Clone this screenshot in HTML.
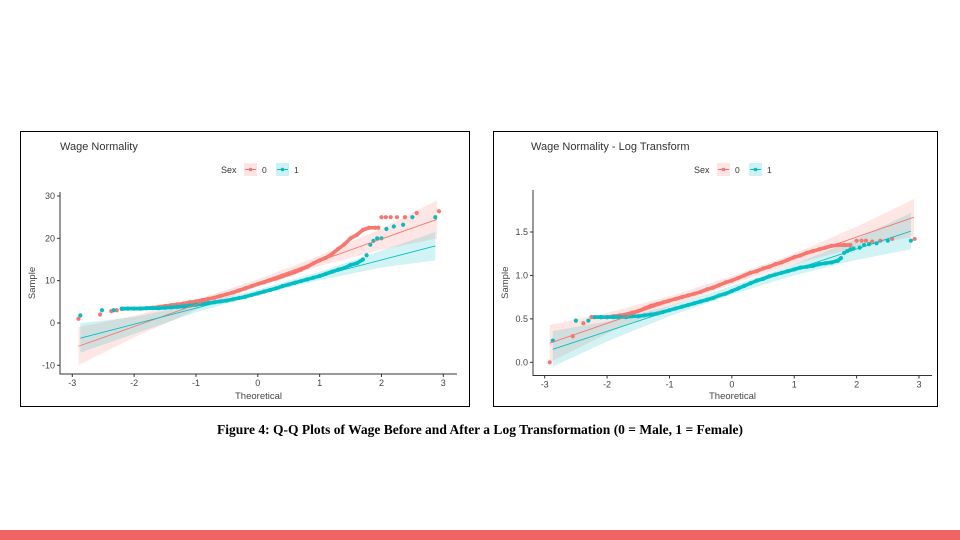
<!DOCTYPE html>
<html><head><meta charset="utf-8"><style>
body{margin:0;width:960px;height:540px;background:#fff;overflow:hidden;position:relative;font-family:"Liberation Sans",sans-serif}
svg{position:absolute;left:0;top:0}
</style></head><body>
<svg width="960" height="540" id="root">
<rect x="20.5" y="131.5" width="449" height="275" fill="none" stroke="#000" stroke-width="1"/>
<rect x="493.5" y="131.5" width="444" height="275" fill="none" stroke="#000" stroke-width="1"/>
<text x="480" y="434" text-anchor="middle" font-family="Liberation Serif, serif" font-weight="bold" font-size="13.5" fill="#000">Figure 4: Q-Q Plots of Wage Before and After a Log Transformation (0 = Male, 1 = Female)</text>
<rect x="0" y="530" width="960" height="10" fill="#f06464"/>
<g id="left"></g>
<g id="right"></g>
</svg>
<script>
// ---- Left chart data (Wage) ----
const L_xTicks=[-3,-2,-1,0,1,2,3];
const L_yTicks=[-10,0,10,20,30];
const L_red_x=[-2.9,-2.55,-2.37,-2.28,-2.2,-2.1,-2.0,-1.9,-1.8,-1.7,-1.6,-1.5,-1.4,-1.3,-1.2,-1.1,-1.0,-0.9,-0.8,-0.7,-0.6,-0.5,-0.4,-0.3,-0.2,-0.1,0,0.1,0.2,0.3,0.4,0.5,0.6,0.7,0.8,0.9,1.0,1.1,1.2,1.3,1.4,1.5,1.6,1.7,1.8,1.9,1.95,2.0,2.07,2.15,2.25,2.38,2.57,2.93];
const L_red_y=[1.0,2.0,2.8,3.0,3.3,3.4,3.4,3.4,3.5,3.6,3.8,4.0,4.2,4.4,4.6,4.9,5.1,5.4,5.7,6.0,6.4,6.8,7.2,7.7,8.2,8.7,9.2,9.6,10.1,10.5,11.0,11.5,12.0,12.6,13.3,14.1,14.8,15.4,16.3,17.5,18.6,20.0,20.8,22.0,22.5,22.5,22.5,25,25,25,25,25,26,26.4];
const L_teal_x=[-2.87,-2.52,-2.33,-2.2,-2.1,-2.0,-1.9,-1.8,-1.7,-1.6,-1.5,-1.4,-1.3,-1.2,-1.1,-1.0,-0.9,-0.8,-0.7,-0.6,-0.5,-0.4,-0.3,-0.2,-0.1,0,0.1,0.2,0.3,0.4,0.5,0.6,0.7,0.8,0.9,1.0,1.1,1.2,1.3,1.4,1.5,1.6,1.7,1.76,1.82,1.87,1.93,2.0,2.08,2.2,2.35,2.5,2.87];
const L_teal_y=[1.8,3.0,3.0,3.4,3.4,3.4,3.4,3.5,3.5,3.5,3.6,3.7,3.8,3.9,4.1,4.3,4.5,4.7,4.9,5.1,5.3,5.6,5.9,6.2,6.6,7.0,7.4,7.8,8.2,8.7,9.1,9.5,9.9,10.3,10.7,11.1,11.6,12.1,12.6,13.0,13.7,14.1,15.0,16,18.5,19.4,20,20,22.2,22.8,23.2,25,25];
const L_red_line=[[-2.9,-5.5],[2.9,24.5]];
const L_teal_line=[[-2.87,-3.6],[2.87,18.2]];
const L_red_band_x=[-2.9,-2,-1,0,1,2,2.9];
const L_red_band_lo=[-10,-3.4,3.1,8.7,13.5,17.3,20.0];
const L_red_band_hi=[-1,1.7,5.5,10.3,15.9,22.3,29];
const L_teal_band_x=[-2.87,-2,-1,0,1,2,2.87];
const L_teal_band_lo=[-7,-2.6,2.5,6.7,10.1,13.1,14.8];
const L_teal_band_hi=[0,1.4,4.5,7.9,12.1,17.1,21.5];
// ---- Right chart data (log wage) ----
const R_xTicks=[-3,-2,-1,0,1,2,3];
const R_yTicks=[0.0,0.5,1.0,1.5];
const R_red_x=[-2.92,-2.55,-2.38,-2.25,-2.1,-2.0,-1.9,-1.8,-1.7,-1.6,-1.5,-1.4,-1.3,-1.2,-1.1,-1.0,-0.9,-0.8,-0.7,-0.6,-0.5,-0.4,-0.3,-0.2,-0.1,0,0.1,0.2,0.3,0.4,0.5,0.6,0.7,0.8,0.9,1.0,1.1,1.2,1.3,1.4,1.5,1.6,1.7,1.8,1.9,2.0,2.08,2.15,2.25,2.38,2.57,2.93];
const R_red_y=[0.0,0.3,0.45,0.52,0.52,0.52,0.53,0.54,0.55,0.57,0.59,0.62,0.65,0.67,0.69,0.71,0.73,0.75,0.77,0.79,0.81,0.84,0.86,0.89,0.92,0.94,0.97,1.0,1.03,1.05,1.08,1.10,1.13,1.15,1.18,1.21,1.23,1.26,1.28,1.30,1.32,1.34,1.35,1.35,1.35,1.40,1.40,1.40,1.39,1.40,1.42,1.42];
const R_teal_x=[-2.87,-2.5,-2.3,-2.2,-2.1,-2.0,-1.9,-1.8,-1.7,-1.6,-1.5,-1.4,-1.3,-1.2,-1.1,-1.0,-0.9,-0.8,-0.7,-0.6,-0.5,-0.4,-0.3,-0.2,-0.1,0,0.1,0.2,0.3,0.4,0.5,0.6,0.7,0.8,0.9,1.0,1.1,1.2,1.3,1.4,1.5,1.6,1.7,1.75,1.8,1.85,1.9,1.95,2.05,2.12,2.2,2.32,2.5,2.87];
const R_teal_y=[0.25,0.48,0.48,0.52,0.52,0.52,0.52,0.52,0.52,0.53,0.53,0.54,0.55,0.56,0.58,0.60,0.62,0.64,0.66,0.68,0.70,0.72,0.74,0.77,0.79,0.82,0.85,0.88,0.91,0.94,0.96,0.99,1.01,1.03,1.05,1.07,1.09,1.10,1.11,1.13,1.14,1.15,1.17,1.20,1.26,1.28,1.30,1.31,1.32,1.35,1.36,1.37,1.40,1.40];
const R_red_line=[[-2.92,0.22],[2.92,1.67]];
const R_teal_line=[[-2.87,0.15],[2.87,1.51]];
const R_red_band_x=[-2.92,-2,-1,0,1,2,2.92];
const R_red_band_lo=[0.0,0.33,0.64,0.9,1.13,1.32,1.45];
const R_red_band_hi=[0.43,0.57,0.76,0.99,1.25,1.56,1.88];
const R_teal_band_x=[-2.87,-2,-1,0,1,2,2.87];
const R_teal_band_lo=[-0.05,0.24,0.53,0.78,1.0,1.18,1.30];
const R_teal_band_hi=[0.36,0.47,0.65,0.88,1.13,1.42,1.72];

const NS='http://www.w3.org/2000/svg';
const RED='#F8766D', TEAL='#00BFC4';
function mk(parent,tag,attrs,text){const e=document.createElementNS(NS,tag);for(const k in attrs)e.setAttribute(k,attrs[k]);if(text!==undefined)e.textContent=text;parent.appendChild(e);return e;}

function drawChart(g,cfg){
  const sx=v=>cfg.x0+(v-cfg.xa)/(cfg.xb-cfg.xa)*(cfg.x1-cfg.x0);
  const sy=v=>cfg.y0+(v-cfg.ya)/(cfg.yb-cfg.ya)*(cfg.y1-cfg.y0);
  const t=mk(g,'text',{x:cfg.titleX,y:150,'font-size':11,fill:'#333'},cfg.title);
  
  
  const lg=mk(g,'g',{});
  
  
  const lx=cfg.legendX;
  mk(lg,'text',{x:lx,y:173,'font-size':9,fill:'#333'},'Sex');
  [[RED,'0',0],[TEAL,'1',32]].forEach(([c,l,o])=>{
    const e=mk(lg,'g',{});
    
    
    mk(e,'rect',{x:lx+23+o,y:163,width:13,height:13,fill:c,'fill-opacity':0.2});
    mk(e,'line',{x1:lx+24+o,x2:lx+35+o,y1:169.5,y2:169.5,stroke:c,'stroke-width':1});
    mk(e,'circle',{cx:lx+29.5+o,cy:169.5,r:1.8,fill:c});
    mk(e,'text',{x:lx+41+o,y:173,'font-size':8.5,fill:'#333'},l);
  });
  function band(bx,lo,hi,c,name){
    let d='';
    bx.forEach((v,i)=>{d+=(i?'L':'M')+sx(v)+','+sy(hi[i]);});
    for(let i=bx.length-1;i>=0;i--)d+='L'+sx(bx[i])+','+sy(lo[i]);
    const p=mk(g,'path',{d:d+'Z',fill:c,'fill-opacity':0.18,stroke:'none'});
    
    
  }
  band(cfg.rbx,cfg.rblo,cfg.rbhi,RED,'band-sex-0');
  band(cfg.tbx,cfg.tblo,cfg.tbhi,TEAL,'band-sex-1');
  function pts(xs,ys,c,name,dense){
    const pg=mk(g,'g',{});
    
    
    for(let i=1;i<xs.length;i++){
      if(xs[i-1]>=dense[0]-1e-9 && xs[i]<=dense[1]+1e-9){
        mk(pg,'line',{x1:sx(xs[i-1]),y1:sy(ys[i-1]),x2:sx(xs[i]),y2:sy(ys[i]),stroke:c,'stroke-width':3.6,'stroke-linecap':'round'});
      }
    }
    xs.forEach((v,i)=>{
      const p=mk(pg,'circle',{cx:sx(v),cy:sy(ys[i]),r:2.1,fill:c});
      
      
    });
  }
  pts(cfg.rx,cfg.ry,RED,'points-sex-0',cfg.rDense);
  pts(cfg.tx,cfg.ty,TEAL,'points-sex-1',cfg.tDense);
  function ln(l,c,name){
    const e=mk(g,'line',{x1:sx(l[0][0]),y1:sy(l[0][1]),x2:sx(l[1][0]),y2:sy(l[1][1]),stroke:c,'stroke-width':0.9});
    
    
  }
  ln(cfg.rl,RED,'qq-line-sex-0');
  ln(cfg.tl,TEAL,'qq-line-sex-1');
  const ax=mk(g,'path',{d:`M${cfg.axX},${cfg.axTop}V${cfg.axBot}H${cfg.axRight}`,fill:'none',stroke:'#333','stroke-width':1});
  
  
  cfg.xt.forEach(v=>{
    mk(g,'line',{x1:sx(v),x2:sx(v),y1:cfg.axBot,y2:cfg.axBot+3,stroke:'#333'});
    const e=mk(g,'text',{x:sx(v),y:cfg.axBot+12,'font-size':9,fill:'#444','text-anchor':'middle'},String(v));
    
    
  });
  cfg.yt.forEach(v=>{
    mk(g,'line',{x1:cfg.axX-3,x2:cfg.axX,y1:sy(v),y2:sy(v),stroke:'#333'});
    const e=mk(g,'text',{x:cfg.axX-5,y:sy(v)+3,'font-size':9,fill:'#444','text-anchor':'end'},cfg.fmt(v));
    
    
  });
  const xtl=mk(g,'text',{x:(cfg.axX+cfg.axRight)/2,y:399,'font-size':9.5,fill:'#444','text-anchor':'middle'},'Theoretical');
  
  
  const ytl=mk(g,'text',{x:0,y:0,'font-size':9.5,fill:'#444','text-anchor':'middle',transform:`translate(${cfg.yTitleX},${(cfg.axTop+cfg.axBot)/2}) rotate(-90)`},'Sample');
  
  
}

drawChart(document.getElementById('left'),{
  title:'Wage Normality',titleX:60,legendX:221,
  xa:-3,xb:3,x0:72.3,x1:443.3,ya:-10,yb:30,y0:365.3,y1:196,
  axX:60,axTop:192,axBot:374,axRight:457,yTitleX:35,
  xt:L_xTicks,yt:L_yTicks,fmt:v=>String(v),
  rx:L_red_x,ry:L_red_y,tx:L_teal_x,ty:L_teal_y,rl:L_red_line,tl:L_teal_line,
  rDense:[-2.2,1.95],tDense:[-2.2,1.7],
  rbx:L_red_band_x,rblo:L_red_band_lo,rbhi:L_red_band_hi,
  tbx:L_teal_band_x,tblo:L_teal_band_lo,tbhi:L_teal_band_hi
});
drawChart(document.getElementById('right'),{
  title:'Wage Normality - Log Transform',titleX:531,legendX:694,
  xa:-3,xb:3,x0:544.7,x1:919,ya:0,yb:1.5,y0:362.3,y1:232,
  axX:533,axTop:190,axBot:375.5,axRight:932,yTitleX:508,
  xt:R_xTicks,yt:R_yTicks,fmt:v=>v.toFixed(1),
  rx:R_red_x,ry:R_red_y,tx:R_teal_x,ty:R_teal_y,rl:R_red_line,tl:R_teal_line,
  rDense:[-2.25,1.9],tDense:[-2.2,1.75],
  rbx:R_red_band_x,rblo:R_red_band_lo,rbhi:R_red_band_hi,
  tbx:R_teal_band_x,tblo:R_teal_band_lo,tbhi:R_teal_band_hi
});
</script>
</body></html>
